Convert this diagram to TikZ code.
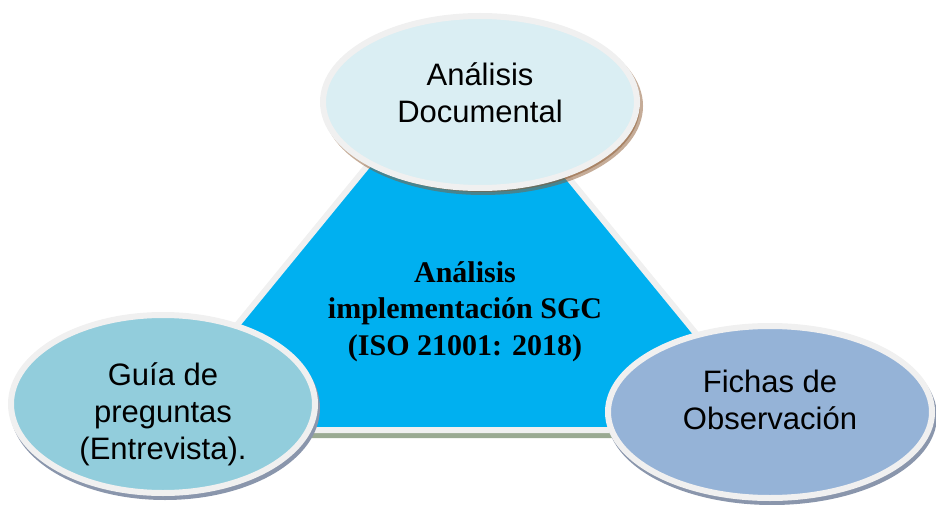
\documentclass[tikz,border=0pt]{standalone}
\usepackage{fontspec}
\newfontfamily\arialfont{Liberation Sans}
\newfontfamily\timesfont{Liberation Serif}
\usepackage{tikz}
\usetikzlibrary{shapes.geometric, shadows, calc}
\definecolor{coreblue}{HTML}{00B0F0}
\definecolor{rimgray}{HTML}{F0F0F0}
\definecolor{paleblue}{HTML}{DAEEF3}
\definecolor{aquablue}{HTML}{92CDDC}
\definecolor{steelblue}{HTML}{95B3D7}
\definecolor{shadowgray}{RGB}{138,150,172}
\definecolor{shadowtan}{RGB}{140,90,50}
\definecolor{shadowgreen}{RGB}{154,170,146}
\tikzset{
  method/.style={
    ellipse, draw=rimgray, line width=6pt, inner sep=0pt
  },
  methodtext/.style={
    align=center, text=black,
    font=\arialfont\fontsize{31}{37}\selectfont
  },
  coretext/.style={
    align=center, text=black,
    font=\timesfont\bfseries\fontsize{30}{36.5}\selectfont
  },
  grayshadow/.style={
    drop shadow={shadow xshift=2pt, shadow yshift=-4pt, opacity=1,
      fill=shadowgray, draw=shadowgray, line width=6pt}
  },
  tanshadow/.style={
    drop shadow={shadow xshift=3pt, shadow yshift=-4pt, opacity=.5,
      fill=shadowtan, draw=shadowtan, line width=6pt}
  },
  greenshadow/.style={
    drop shadow={shadow xshift=0pt, shadow yshift=-5pt, opacity=1,
      fill=shadowgreen, draw=shadowgreen, line width=6pt}
  }
}

\begin{document}
\begin{tikzpicture}[x=1pt, y=1pt]
  \useasboundingbox (0,0) rectangle (936,504);

  % ── Central triangle ─────────────────────────────────────────────
  \coordinate (apex)      at (463,455);
  \coordinate (leftfoot)  at (151,74);
  \coordinate (rightfoot) at (775,74);
  \draw[draw=rimgray, line width=6pt, fill=coreblue, greenshadow]
    (apex) -- (leftfoot) -- (rightfoot) -- cycle;
  \node[coretext] (core) at (465,192.5)
    {Análisis\\implementación SGC\\(ISO 21001: 2018)};

  % ── Methods ──────────────────────────────────────────────────────
  \node[method, fill=paleblue, minimum width=314pt, minimum height=172pt,
        tanshadow] (docu) at (480,402) {};
  \node[methodtext] (docu-txt) at ([yshift=9pt]docu.center)
    {Análisis\\Documental};

  \node[method, fill=aquablue, minimum width=304pt, minimum height=178pt,
        grayshadow] (guia) at (163,100) {};
  \node[methodtext] (guia-txt) at ([yshift=-10pt]guia.center)
    {Guía de\\preguntas\\(Entrevista).};

  \node[method, fill=steelblue, minimum width=324pt, minimum height=172pt,
        grayshadow] (fichas) at (770,92) {};
  \node[methodtext] (fichas-txt) at ([yshift=12pt]fichas.center)
    {Fichas de\\Observación};
\end{tikzpicture}
\end{document}
